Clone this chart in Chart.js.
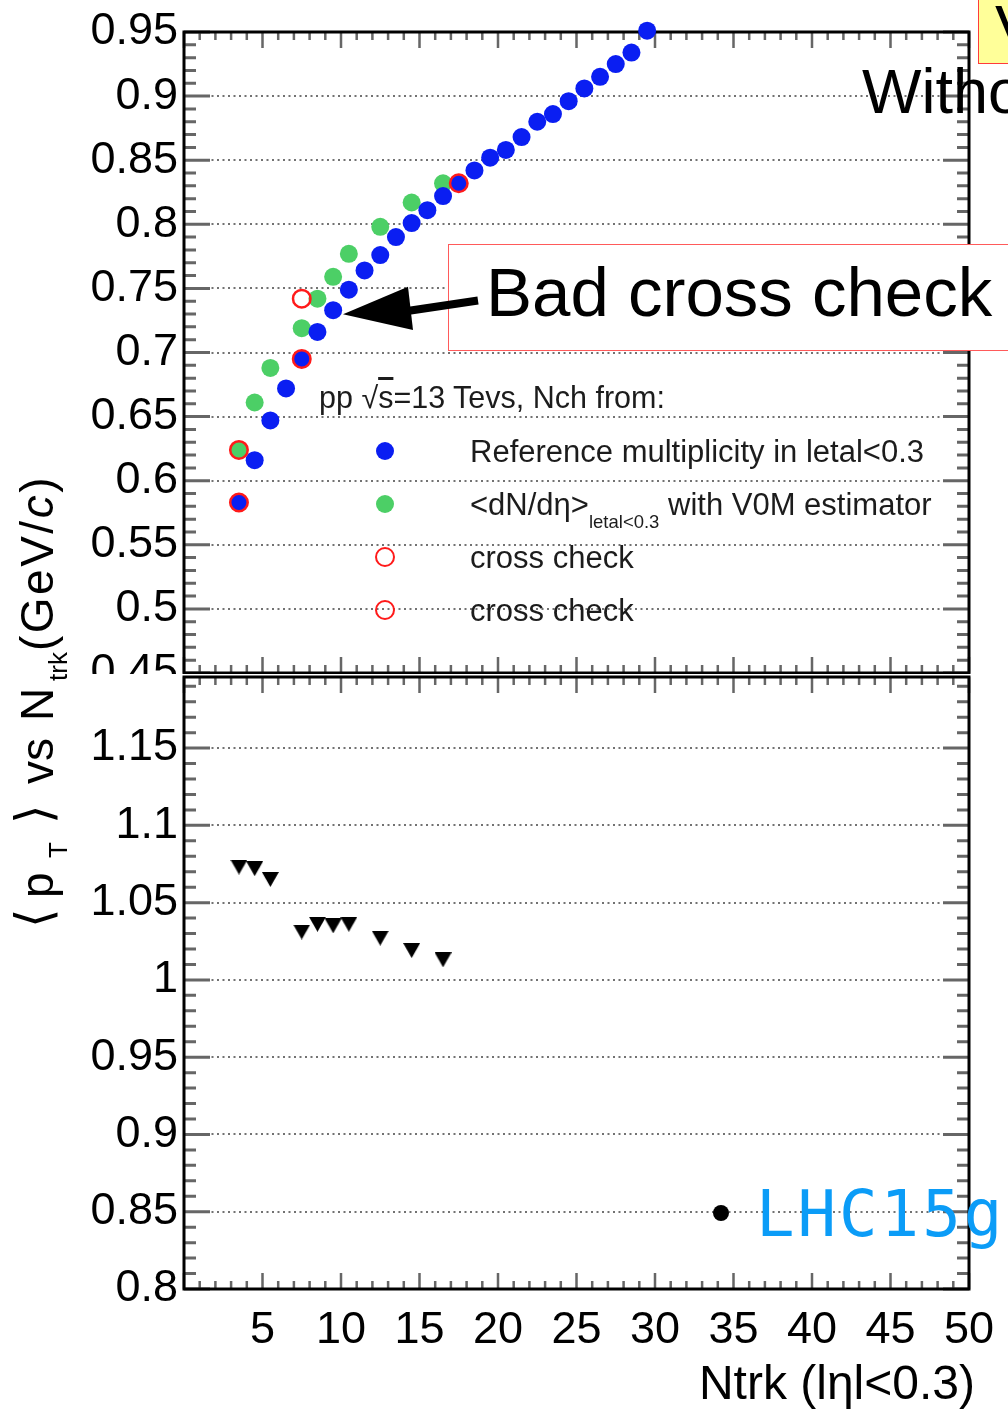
<!DOCTYPE html>
<html>
<head>
<meta charset="utf-8">
<script src="https://cdn.jsdelivr.net/npm/chart.js@4.4.1/dist/chart.umd.min.js"></script>
<style>
  body { margin: 0; background: #fff; }
  #page { position: relative; width: 1008px; height: 1414px; overflow: hidden; background: #fff;
          font-family: 'Liberation Sans', Arial, sans-serif; color: #000; }
  canvas { position: absolute; left: 0; }
  #topPad { top: 0; }
  #bottomPad { top: 674px; background: #fff; }
  .txt { position: absolute; white-space: nowrap; }
  .legend { font-size: 31px; line-height: 31px; color: #1c1c1c; }
  .mk { position: absolute; width: 18px; height: 18px; border-radius: 50%; box-sizing: border-box; }
  .ring { width: 20px; height: 20px; border: 2.5px solid #ff1a1a; }
  #ytitle { position: absolute; left: 0; top: 0; width: 460px; height: 46px; transform-origin: 0 0;
            transform: translate(14px, 930px) rotate(-90deg); font-size: 46px; line-height: 46px; }
  #ytitle span { position: absolute; top: 0; white-space: nowrap; }
  #ytitle .ang { font-family: 'DejaVu Sans', sans-serif; font-size: 50px; top: -3px; }
  #ytitle .sub { font-size: 26px; top: 21px; }
  #badBox { position: absolute; left: 448px; top: 244px; width: 600px; height: 105px; background: #fff;
            border: 1.5px solid #ff5a5a; }
  #yellowBox { position: absolute; left: 978px; top: -2px; width: 60px; height: 64px; background: #ffff99;
               border: 1.5px solid #ff3b3b; overflow: hidden; }
</style>
</head>
<body>
<div id="page">
  <canvas id="topPad" width="1008" height="700"></canvas>
  <canvas id="bottomPad" width="1008" height="740"></canvas>

  <!-- legend of the upper pad -->
  <div class="txt legend" style="left:319px; top:382px; font-size:30.5px;">pp &radic;<span style="text-decoration:overline">s</span>=13 Tevs, Nch from:</div>
  <div class="mk" style="left:376px; top:442px; background:#0a1ef2;"></div>
  <div class="txt legend" style="left:470px; top:436px;">Reference multiplicity in letal&lt;0.3</div>
  <div class="mk" style="left:376px; top:495px; background:#4ccf66;"></div>
  <div class="txt legend" style="left:470px; top:489px;">&lt;dN/d&eta;&gt;<span style="font-size:18.5px; position:relative; top:13px;">letal&lt;0.3</span> with V0M estimator</div>
  <div class="mk ring" style="left:375px; top:547px;"></div>
  <div class="txt legend" style="left:470px; top:542px;">cross check</div>
  <div class="mk ring" style="left:375px; top:600px;"></div>
  <div class="txt legend" style="left:470px; top:595px;">cross check</div>

  <!-- annotations -->
  <div id="badBox"></div>
  <div class="txt" style="left:486px; top:258px; font-size:69px; line-height:69px;">Bad cross check</div>
  <svg style="position:absolute; left:0; top:0;" width="1008" height="1414">
    <line x1="404" y1="311.5" x2="478" y2="300.5" stroke="#000" stroke-width="8"/>
    <polygon points="343,314.3 408,286.7 413,330" fill="#000"/>
  </svg>
  <div class="txt" style="left:862px; top:60px; font-size:63px; line-height:63px;">Without</div>
  <div id="yellowBox"><div class="txt" style="left:16px; top:-3px; font-size:63px; line-height:63px;">V</div></div>
  <div style="position:absolute; left:713px; top:1205px; width:16px; height:16px; border-radius:50%; background:#000;"></div>
  <div class="txt" style="left:756px; top:1182px; font-family:'DejaVu Sans Mono', monospace; font-size:64px; line-height:64px; letter-spacing:3px; color:#0b9cf7;">LHC15g</div>

  <!-- axis titles -->
  <div class="txt" style="right:33px; top:1359px; font-size:48px; line-height:48px;">Ntrk (l&eta;l&lt;0.3)</div>
  <div id="ytitle">
    <span class="ang" style="left:2px;">&#x27E8;</span>
    <span style="left:32px;">p</span>
    <span class="sub" style="left:72px;">T</span>
    <span class="ang" style="left:106px;">&#x27E9;</span>
    <span style="left:146px;">vs</span>
    <span style="left:209px;">N</span>
    <span class="sub" style="left:249px;">trk</span>
    <span style="left:279px; letter-spacing:2.5px;">(GeV/<i>c</i>)</span>
  </div>
</div>

<script>
// <pT> vs Ntrk, pp 13 TeV
const ntrkRef = [3.5, 4.5, 5.5, 6.5, 7.5, 8.5, 9.5, 10.5, 11.5, 12.5, 13.5, 14.5, 15.5, 16.5,
                 17.5, 18.5, 19.5, 20.5, 21.5, 22.5, 23.5, 24.5, 25.5, 26.5, 27.5, 28.5, 29.5];
const meanPtRef = [0.583, 0.616, 0.647, 0.672, 0.695, 0.716, 0.733, 0.749, 0.764, 0.776, 0.790, 0.801, 0.811, 0.822,
                   0.832, 0.842, 0.852, 0.858, 0.868, 0.880, 0.886, 0.896, 0.906, 0.915, 0.925, 0.934, 0.951];

const ntrkV0M = [3.5, 4.5, 5.5, 7.5, 8.5, 9.5, 10.5, 12.5, 14.5, 16.5];
const meanPtV0M = [0.624, 0.661, 0.688, 0.719, 0.742, 0.759, 0.777, 0.798, 0.817, 0.832];

const ntrkCrossRef = [3.5, 7.5, 17.5];
const meanPtCrossRef = [0.583, 0.695, 0.832];
const ntrkCrossV0M = [3.5, 7.5];
const meanPtCrossV0M = [0.624, 0.742];

// lower pad: V0M / reference
const ratioV0M = [1.073, 1.072, 1.065, 1.031, 1.036, 1.035, 1.036, 1.027, 1.019, 1.013];

const yTicksTop = [0.45, 0.5, 0.55, 0.6, 0.65, 0.7, 0.75, 0.8, 0.85, 0.9, 0.95];
const yTicksBottom = [0.8, 0.85, 0.9, 0.95, 1, 1.05, 1.1, 1.15];
const xTickLabels = [5, 10, 15, 20, 25, 30, 35, 40, 45, 50];

const BLUE = '#0a1ef2', GREEN = '#4ccf66', RED = '#ff1a1a';
const FONT = "'Liberation Sans', Arial, sans-serif";

const toPoints = (xs, ys) => xs.map((x, i) => ({ x: x, y: ys[i] }));
const fmt = v => String(+v.toFixed(2));

// down-pointing triangle marker, centred on its box
function triangleMarker() {
    const c = document.createElement('canvas');
    c.width = 17; c.height = 15;
    const g = c.getContext('2d');
    g.fillStyle = '#000';
    g.beginPath();
    g.moveTo(0, 0); g.lineTo(17, 0); g.lineTo(8.5, 15);
    g.closePath();
    g.fill();
    return c;
}

// ROOT-like frame: box plus major/minor ticks on all four sides
const rootFrame = {
    id: 'rootFrame',
    beforeDatasetsDraw(chart) {
        const { ctx, chartArea: a, scales: { x, y } } = chart;
        ctx.save();
        ctx.strokeStyle = '#666';
        ctx.lineWidth = 3;
        const kMin = Math.ceil(y.min * 100 - 1e-6), kMax = Math.floor(y.max * 100 + 1e-6);
        for (let k = kMin; k <= kMax; k++) {
            const py = y.getPixelForValue(k / 100);
            const len = k % 5 === 0 ? 26 : 12;
            ctx.beginPath();
            ctx.moveTo(a.left, py); ctx.lineTo(a.left + len, py);
            ctx.moveTo(a.right, py); ctx.lineTo(a.right - len, py);
            ctx.stroke();
        }
        ctx.lineWidth = 2.5;
        for (let v = Math.ceil(x.min); v <= x.max; v++) {
            const px = x.getPixelForValue(v);
            const len = v % 5 === 0 ? 16 : 8;
            ctx.beginPath();
            ctx.moveTo(px, a.bottom); ctx.lineTo(px, a.bottom - len);
            ctx.moveTo(px, a.top); ctx.lineTo(px, a.top + len);
            ctx.stroke();
        }
        ctx.strokeStyle = '#000';
        ctx.lineWidth = 3;
        ctx.strokeRect(a.left, a.top, a.right - a.left, a.bottom - a.top);
        ctx.restore();
    }
};

function axes(yMin, yMax, yTicks, xHeight, showX) {
    return {
        x: {
            type: 'linear', min: 0, max: 50,
            afterFit: s => { s.height = xHeight; s.paddingLeft = 0; s.paddingRight = 0; },
            afterBuildTicks: s => { s.ticks = xTickLabels.map(v => ({ value: v })); },
            grid: { display: false },
            border: { display: false },
            ticks: { display: showX, autoSkip: false, maxRotation: 0, padding: 7,
                     color: '#000', font: { family: FONT, size: 45 } }
        },
        y: {
            min: yMin, max: yMax,
            // labels never push the frame: the pad edges are fixed
            afterFit: s => { s.width = 184; s.paddingTop = 0; s.paddingBottom = 0; },
            afterBuildTicks: s => { s.ticks = yTicks.map(v => ({ value: v })); },
            grid: { color: '#727272', lineWidth: 2, drawTicks: false },
            border: { display: false, dash: [2, 3.5] },
            ticks: { autoSkip: false, padding: 6, color: '#000', callback: fmt,
                     font: { family: FONT, size: 45 } }
        }
    };
}

const common = {
    responsive: false,
    animation: false,
    devicePixelRatio: 1,
    events: [],
    plugins: { legend: { display: false }, tooltip: { enabled: false } }
};

new Chart(document.getElementById('topPad'), {
    type: 'scatter',
    data: {
        datasets: [
            { label: 'cross check', data: toPoints(ntrkCrossV0M, meanPtCrossV0M), order: 0, clip: false,
              pointStyle: 'circle', pointRadius: 8.75, pointBorderWidth: 2.5,
              pointBorderColor: RED, pointBackgroundColor: 'rgba(0,0,0,0)' },
            { label: 'cross check', data: toPoints(ntrkCrossRef, meanPtCrossRef), order: 1, clip: false,
              pointStyle: 'circle', pointRadius: 8.75, pointBorderWidth: 2.5,
              pointBorderColor: RED, pointBackgroundColor: 'rgba(0,0,0,0)' },
            { label: 'Reference multiplicity in |eta|<0.3', data: toPoints(ntrkRef, meanPtRef), order: 2, clip: false,
              pointStyle: 'circle', pointRadius: 9, pointBorderWidth: 0, pointBackgroundColor: BLUE },
            { label: '<dN/deta> with V0M estimator', data: toPoints(ntrkV0M, meanPtV0M), order: 3, clip: false,
              pointStyle: 'circle', pointRadius: 9, pointBorderWidth: 0, pointBackgroundColor: GREEN }
        ]
    },
    options: Object.assign({}, common, {
        layout: { autoPadding: false, padding: { top: 32, right: 39, bottom: 0, left: 0 } },
        scales: axes(0.45, 0.95, yTicksTop, 27, false)
    }),
    plugins: [rootFrame]
});

new Chart(document.getElementById('bottomPad'), {
    type: 'scatter',
    data: {
        datasets: [
            { label: 'V0M / reference', data: toPoints(ntrkV0M, ratioV0M), clip: false,
              pointStyle: triangleMarker(), pointRadius: 9 }
        ]
    },
    options: Object.assign({}, common, {
        layout: { autoPadding: false, padding: { top: 3, right: 39, bottom: 0, left: 0 } },
        scales: axes(0.8, 1.196, yTicksBottom, 125, true)
    }),
    plugins: [rootFrame]
});
</script>
</body>
</html>
